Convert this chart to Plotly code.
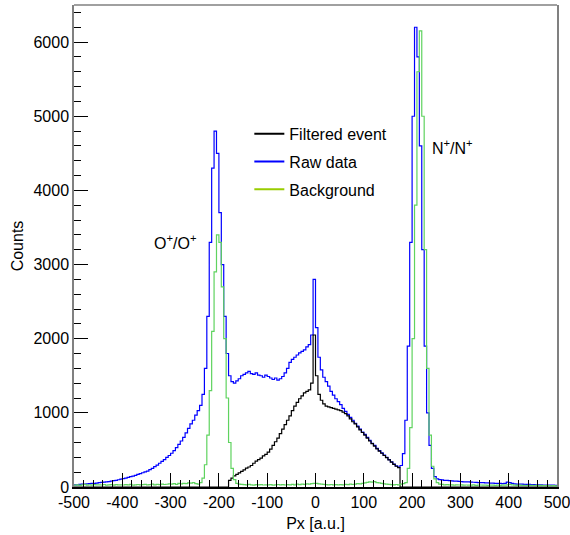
import plotly.graph_objects as go

# Histogram binning (bin left edges from -500, width 5)
BIN_START = -500
BIN_WIDTH = 5

raw_data = [
    30, 28, 35, 38, 40, 42, 45, 48, 50, 52,
    58, 62, 65, 70, 72, 78, 85, 90, 98, 105,
    112, 120, 130, 140, 148, 158, 170, 180, 192, 205,
    215, 235, 250, 275, 295, 320, 345, 370, 400, 425,
    455, 490, 530, 575, 620, 670, 730, 790, 850, 900,
    970, 1030, 1100, 1250, 1600, 2300, 3300, 4300, 4800, 4500,
    3700, 3000, 2300, 1800, 1500, 1420, 1400, 1430, 1460, 1500,
    1520, 1540, 1560, 1530, 1520, 1540, 1510, 1500, 1480, 1510,
    1490, 1470, 1450, 1470, 1440, 1460, 1490, 1540, 1600, 1680,
    1720, 1750, 1780, 1810, 1830, 1850, 1890, 1920, 2050, 2800,
    2150, 1750, 1580, 1480, 1420, 1360, 1290, 1240, 1190, 1150,
    1110, 1060, 1020, 980, 940, 900, 860, 820, 780, 740,
    710, 670, 630, 590, 560, 520, 490, 460, 430, 400,
    370, 340, 310, 285, 270, 290, 450, 900, 1900, 3300,
    5000, 6200, 5800, 4600, 3200, 1900, 1000, 560, 250, 140,
    110, 100, 95, 90, 88, 85, 82, 80, 78, 75,
    72, 70, 70, 68, 65, 64, 62, 60, 60, 58,
    55, 55, 52, 52, 50, 48, 48, 45, 50, 65,
    60, 48, 42, 40, 40, 38, 36, 35, 35, 33,
    32, 30, 30, 28, 27, 26, 25, 25, 24, 22,
]

filtered_event = [
    0, 0, 0, 0, 0, 0, 0, 0, 0, 0,
    0, 0, 0, 0, 0, 0, 0, 0, 0, 0,
    0, 0, 0, 0, 0, 0, 0, 0, 0, 0,
    0, 0, 0, 0, 0, 0, 0, 0, 0, 0,
    0, 0, 0, 0, 0, 0, 0, 0, 0, 0,
    0, 0, 0, 0, 0, 0, 0, 0, 0, 0,
    0, 0, 0, 0, 90, 120, 150, 170, 190, 210,
    230, 255, 270, 290, 320, 350, 370, 390, 420, 440,
    470, 510, 560, 610, 660, 720, 780, 840, 900, 960,
    1030, 1090, 1140, 1190, 1230, 1270, 1290, 1310, 1400, 2050,
    1500, 1250, 1170, 1120, 1090, 1080, 1070, 1060, 1050, 1040,
    1030, 1010, 990, 960, 920, 880, 850, 810, 770, 735,
    700, 660, 620, 585, 550, 515, 485, 455, 425, 395,
    365, 335, 305, 280, 260, 0, 0, 0, 0, 0,
    0, 0, 0, 0, 0, 0, 0, 0, 0, 0,
    0, 0, 0, 0, 0, 0, 0, 0, 0, 0,
    0, 0, 0, 0, 0, 0, 0, 0, 0, 0,
    0, 0, 0, 0, 0, 0, 0, 0, 0, 0,
    0, 0, 0, 0, 0, 0, 0, 0, 0, 0,
    0, 0, 0, 0, 0, 0, 0, 0, 0, 0,
]

background = [
    25, 30, 22, 28, 35, 26, 30, 24, 32, 28,
    30, 27, 34, 25, 29, 31, 26, 33, 28, 30,
    27, 32, 29, 35, 26, 30, 34, 28, 31, 36,
    30, 33, 38, 29, 35, 32, 40, 34, 37, 42,
    38, 45, 36, 48, 42, 50, 46, 55, 52, 60,
    45, 40, 60, 120, 300, 700, 1300, 2100, 2900, 3400,
    3300, 2700, 2000, 1200, 600, 250, 100, 50, 40, 35,
    32, 28, 35, 30, 26, 31, 29, 33, 27, 30,
    28, 32, 26, 30, 34, 29, 31, 27, 33, 30,
    35, 30, 38, 33, 40, 36, 42, 38, 45, 50,
    48, 42, 38, 35, 32, 30, 34, 28, 31, 30,
    33, 29, 35, 31, 38, 34, 40, 45, 42, 50,
    55, 62, 70, 65, 72, 60, 55, 48, 42, 38,
    35, 32, 30, 34, 30, 40, 45, 60, 250, 800,
    2000, 3800, 5600, 6150, 5000, 3200, 1600, 700, 280, 110,
    60, 40, 35, 30, 32, 28, 30, 26, 29, 27,
    28, 25, 27, 24, 26, 28, 23, 25, 27, 24,
    25, 22, 26, 24, 23, 25, 22, 24, 26, 28,
    35, 30, 25, 22, 24, 21, 23, 20, 22, 21,
    20, 22, 19, 21, 18, 20, 19, 17, 18, 16,
]

x_tick_vals = [-500, -400, -300, -200, -100, 0, 100, 200, 300, 400, 500]
y_tick_vals = [0, 1000, 2000, 3000, 4000, 5000, 6000]

series_names = ["Filtered event", "Raw data", "Background"]
legend_colors = ["#000000", "#0000ff", "#99cc00"]

FONT = "Liberation Sans, Arial, sans-serif"


def edges(values):
    xs = [BIN_START + i * BIN_WIDTH for i in range(len(values) + 1)]
    ys = list(values) + [values[-1]]
    return xs, ys


fig = go.Figure()

for vals, color in [(raw_data, "#0000ff"), (filtered_event, "#000000"), (background, "#5fd35f")]:
    xs, ys = edges(vals)
    fig.add_trace(go.Scatter(x=xs, y=ys, mode="lines", line=dict(color=color, width=1.2, shape="hv"),
                             showlegend=False, hoverinfo="skip"))

# legend entries
for i, (name, color) in enumerate(zip(series_names, legend_colors)):
    fig.add_trace(go.Scatter(x=[None], y=[None], mode="lines", name=name, legendgroup=f"g{i}",
                             line=dict(color=color, width=2)))

fig.add_annotation(x=-290, y=3300, text="O<sup>+</sup>/O<sup>+</sup>", showarrow=False,
                   font=dict(family=FONT, size=16, color="black"))
fig.add_annotation(x=283, y=4580, text="N<sup>+</sup>/N<sup>+</sup>", showarrow=False,
                   font=dict(family=FONT, size=16, color="black"))

# top frame line (grey)
fig.add_shape(type="line", xref="paper", yref="paper", x0=0, x1=1, y0=1, y1=1,
              line=dict(color="#808080", width=1.5))

fig.update_layout(
    width=570, height=535,
    margin=dict(l=74, r=13, t=5, b=48, autoexpand=False),
    paper_bgcolor="white", plot_bgcolor="white",
    font=dict(family=FONT, size=16, color="black"),
    legend=dict(x=0.363, y=0.768, xanchor="left", yanchor="top", bgcolor="rgba(0,0,0,0)",
                font=dict(family=FONT, size=16), itemwidth=30, tracegroupgap=4),
    xaxis=dict(range=[-500, 500], tickvals=x_tick_vals, ticktext=[str(v) for v in x_tick_vals],
               ticks="inside", ticklen=14, tickcolor="black", tickwidth=1,
               minor=dict(dtick=20, ticks="inside", ticklen=7, tickcolor="black"),
               showline=True, linecolor="black", linewidth=1.5, mirror=False,
               showgrid=False, zeroline=False, automargin=False, ticklabeloverflow="allow",
               title=dict(text="Px [a.u.]", standoff=8, font=dict(size=16))),
    yaxis=dict(range=[0, 6500], tickvals=y_tick_vals, ticktext=[str(v) for v in y_tick_vals],
               ticks="inside", ticklen=14, tickcolor="black", tickwidth=1,
               minor=dict(dtick=200, ticks="inside", ticklen=7, tickcolor="black"),
               showline=True, linecolor="#808080", linewidth=1.5, mirror=True,
               showgrid=False, zeroline=False, automargin=False,
               title=dict(text="Counts", standoff=6, font=dict(size=16))),
)

fig.write_html("out.html",
               config={"displayModeBar": False},
               post_script="document.body.style.margin='0';document.body.style.padding='0';")
